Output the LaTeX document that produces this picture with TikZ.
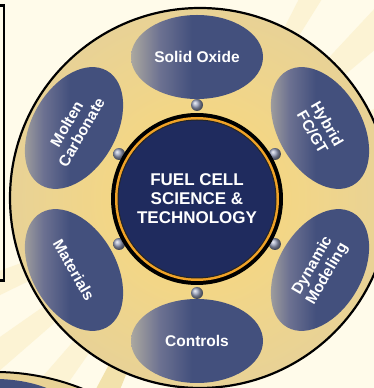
\documentclass[tikz,border=0pt]{standalone}
\usepackage{fontspec}
\setmainfont{Liberation Sans}
\usetikzlibrary{shapes.geometric,calc}

\definecolor{paper}{HTML}{FFFBEA}
\definecolor{raypale}{HTML}{FCF3D4}
\definecolor{raytan}{HTML}{F2E2AC}
\definecolor{rimin}{HTML}{FCDA78}
\definecolor{rimout}{HTML}{E8D296}
\definecolor{petalblue}{HTML}{43507D}
\definecolor{petalmid}{HTML}{6C7191}
\definecolor{petalhi}{HTML}{ABA8A0}
\definecolor{hubnavy}{HTML}{1F2B5E}
\definecolor{ringorange}{HTML}{F0A227}
\definecolor{jointgrey}{HTML}{98A0BC}

\pgfdeclarehorizontalshading{petalshade}{100bp}{color(0bp)=(petalhi); color(25bp)=(petalhi); color(36bp)=(petalmid); color(48bp)=(petalblue); color(100bp)=(petalblue)}

\tikzset{
  petal/.style={ellipse, minimum width=132pt, minimum height=84pt, inner sep=0pt,
    shading=petalshade, rotate=#1,
    text=white, align=center, font=\bfseries\fontsize{15.5}{17}\selectfont},
  joint/.style={circle, inner sep=0pt, minimum size=12pt, ball color=jointgrey},
  hub/.style={circle, minimum size=158pt, inner sep=0pt, fill=hubnavy,
    draw=black!85, line width=1pt, text=white, align=center,
    font=\bfseries\fontsize{17}{19}\selectfont},
}

\begin{document}
\begin{tikzpicture}[x=1pt,y=1pt]
  \useasboundingbox (0,0) rectangle (374,388);
  \clip (0,0) rectangle (374,388);

  \coordinate (hubc) at (197,189);
  \coordinate (wheelc) at (200,190);

  % backdrop and sun rays
  \fill[paper] (0,0) rectangle (374,388);
  \fill[raypale] (hubc) -- +(20:600) -- +(27:600) -- cycle;
  \fill[raypale] (hubc) -- +(40:600) -- +(47:600) -- cycle;
  \fill[raypale] (hubc) -- +(58:600) -- +(63:600) -- cycle;
  \fill[raypale] (hubc) -- +(200:600) -- +(206:600) -- cycle;
  \fill[raypale] (hubc) -- +(215:600) -- +(221:600) -- cycle;
  \fill[raypale] (hubc) -- +(229:600) -- +(235:600) -- cycle;
  \fill[raytan] (hubc) -- +(242:600) -- +(248:600) -- cycle;

  % next wheel peeking in at the bottom
  \draw[line width=2pt, shade, inner color=rimin, outer color=rimout] (-5,-219) circle (235);
  \fill[petalblue] (-5,-41) ellipse (90 and 50);

  % main wheel
  \draw[line width=2.2pt, shade, inner color=rimin, outer color=rimout] (wheelc) circle (190);

  \node[petal=0] (solid) at (197,331) {Solid Oxide};
  \node[petal=-60] (hybrid) at (320,260) {Hybrid\\FC/GT};
  \node[petal=60] (dynamic) at (320,118) {Dynamic\\Modeling};
  \node[petal=0] (controls) at (197,47) {Controls};
  \node[petal=-60] (materials) at (74,118) {Materials};
  \node[petal=60] (molten) at (74,260) {Molten\\Carbonate};

  \node[joint] (j1) at ($(hubc)!94pt!(solid)$) {};
  \node[joint] (j2) at ($(hubc)!90pt!(hybrid)$) {};
  \node[joint] (j3) at ($(hubc)!90pt!(dynamic)$) {};
  \node[joint] (j4) at ($(hubc)!94pt!(controls)$) {};
  \node[joint] (j5) at ($(hubc)!90pt!(materials)$) {};
  \node[joint] (j6) at ($(hubc)!90pt!(molten)$) {};

  % hub with its black and orange rings
  \fill[black] (hubc) circle (86);
  \fill[ringorange] (hubc) circle (82);
  \node[hub] (hub) at (hubc) {FUEL CELL\\SCIENCE \&\\TECHNOLOGY};

  % edge of the box on the left
  \draw[line width=2.6pt] (-10,382.5) -- (4,382.5) -- (4,107.5) -- (-10,107.5);
\end{tikzpicture}
\end{document}
